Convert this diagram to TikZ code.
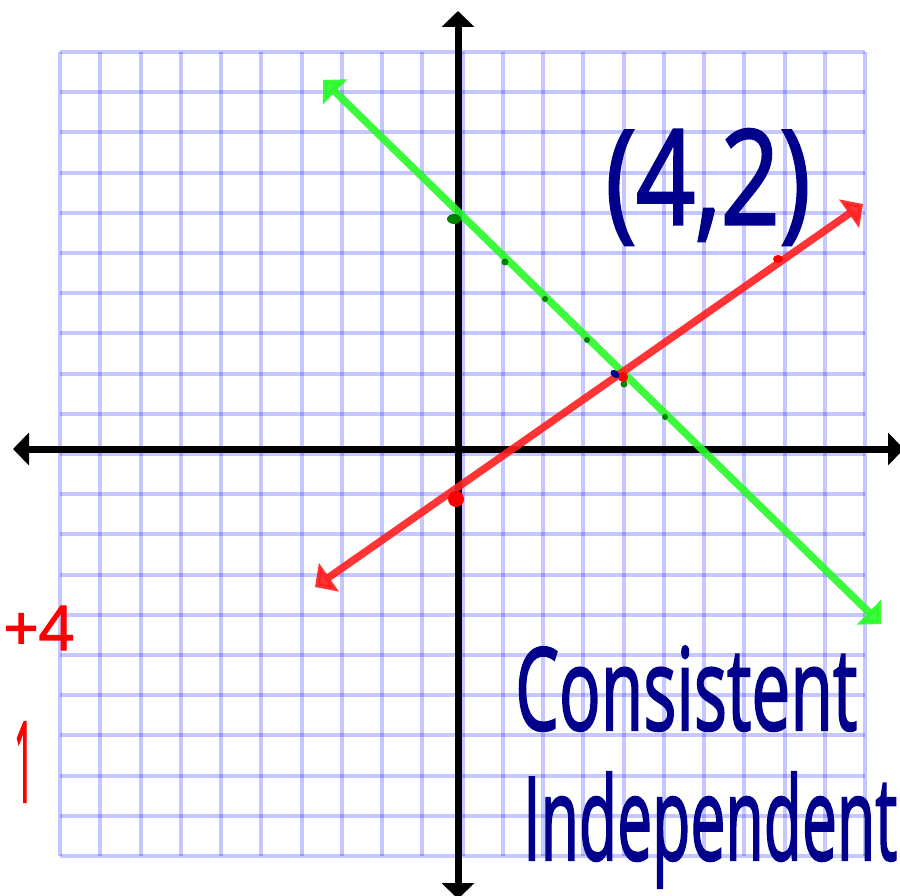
\documentclass[tikz,border=0pt]{standalone}
\usepackage{fontspec}
\setmainfont{Open Sans}
\newfontfamily\handfont{Open Sans}[FakeBold=2]
\usetikzlibrary{arrows.meta}
\definecolor{gridblue}{RGB}{0,0,255}
\definecolor{penblue}{RGB}{0,0,140}
\definecolor{lineGreen}{RGB}{40,250,40}
\definecolor{lineRed}{RGB}{255,30,30}
\definecolor{dotGreen}{RGB}{0,130,0}
\definecolor{inkRed}{RGB}{255,0,0}
\begin{document}
\begin{tikzpicture}[x=1pt,y=-1pt,
  gridline/.style={gridblue, opacity=0.22, line width=4pt},
  axisline/.style={line width=7pt, black, {Triangle[length=16pt,width=32pt]}-{Triangle[length=16pt,width=32pt]}},
  graphline/.style={line width=7.5pt, opacity=0.9, {Triangle[length=17pt,width=34pt]}-{Triangle[length=17pt,width=34pt]}},
  pen/.style={inner sep=0pt, text=penblue, font=\handfont},
  redpen/.style={inner sep=0pt, text=inkRed, font=\handfont},
  gdot/.style={fill=dotGreen},
  rdot/.style={fill=inkRed},
]
\useasboundingbox (0,0) rectangle (900,896);
\fill[white] (0,0) rectangle (900,896);
% grid
\foreach \i in {0,...,20} {
  \draw[gridline] ({60+40.25*\i},52) -- ({60+40.25*\i},856);
  \draw[gridline] (60,{52+40.2*\i}) -- (865,{52+40.2*\i});
}
% axes
\coordinate (ytop) at (458,11);
\coordinate (ybot) at (458,899);
\coordinate (xleft) at (13,449);
\coordinate (xright) at (904,449);
\draw[axisline] (xleft) -- (xright);
\draw[axisline] (ybot) -- (ytop);
% green line
\coordinate (gA) at (323,80);
\coordinate (gB) at (881,624);
\draw[graphline, lineGreen] (gA) -- (gB);
% red line
\coordinate (rA) at (315,587);
\coordinate (rB) at (863,204);
\draw[graphline, lineRed] (rA) -- (rB);
% dots
\fill[gdot] (454,219) ellipse (7pt and 5pt);
\fill[gdot] (505,262) circle (3.5pt);
\fill[gdot] (545,299) circle (3pt);
\fill[gdot] (587,340) circle (3pt);
\fill[gdot] (624,384) circle (3.5pt);
\fill[gdot] (665,417) circle (3pt);
\fill[rdot] (456,499) circle (8pt);
\fill[rdot] (778,259) ellipse (5pt and 4pt);
\fill[rdot] (623,377) circle (5pt);
\fill[penblue, rotate around={-40:(615,374)}] (615,374) ellipse (5pt and 3.5pt);
% texts
\node[pen, anchor=center] (pt) at (708,187) {\resizebox*{205pt}{116pt}{(4,2)}};
\node[pen, anchor=base west] (cons) at (515,730) {\resizebox{342pt}{84pt}{Consistent}};
\node[pen, anchor=base west] (indep) at (523,860) {\resizebox{374pt}{88pt}{Independent}};
\node[redpen, anchor=base east] (plusfour) at (74,650) {\resizebox{!}{44pt}{+4}};
\node[redpen, anchor=base] (one) at (24,802) {\resizebox{20pt}{80pt}{1}};
\end{tikzpicture}
\end{document}
